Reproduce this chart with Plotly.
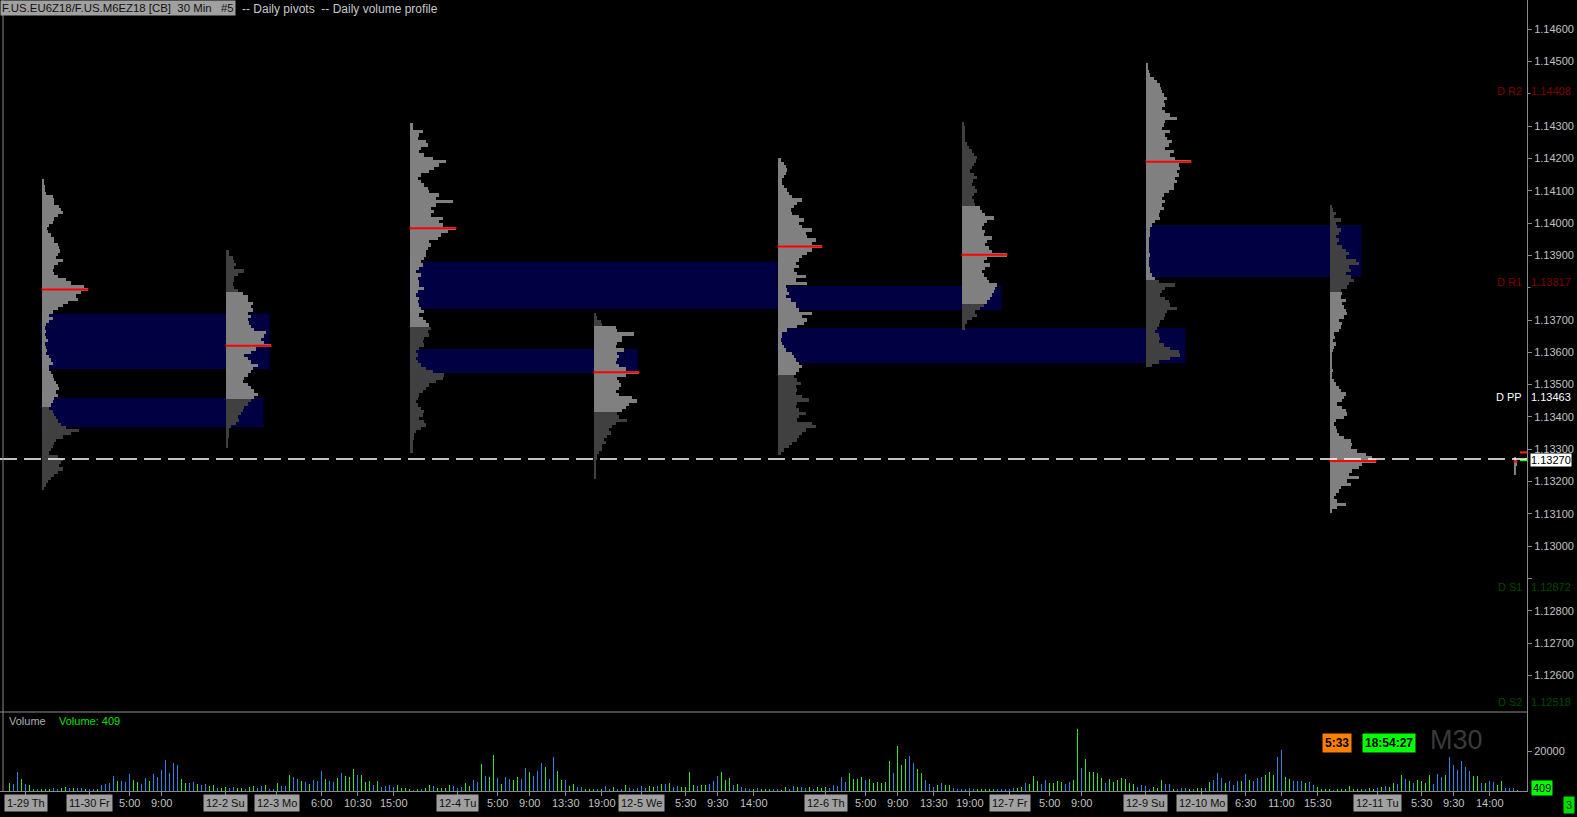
import plotly.graph_objects as go

# ---------------- DATA ----------------
# x axis = 30-min bar index k (k = 0 -> 11-29 18:00 ET session open)
vol_first_bar = -8
volume = [
    4000,3500,9500,6000,3500,3000,1000,1000,1000,1000, 1000,1500,1000,1500,2000,1500,1500,1500,1500,1000,
    1000,1000,1000,3000,3500,4000,7500,5000,5000,4500, 8500,5500,4500,3500,6500,5000,8500,7000,10500,15500,
    9000,14000,13000,6000,4000,4000,4500,3500,3000,3500, 2500,3000,1500,1500,2000,1500,2000,1500,1500,1000,
    2000,2500,1500,2500,3000,1000,1000,4000,2500,2500, 8000,7000,6000,5000,4500,3500,5500,5000,10000,6000,
    5000,4500,6500,9000,7500,7000,11000,8000,8000,4500, 5000,3000,5000,2000,2500,3000,2000,3000,1500,1500,
    1000,500,1000,1000,1500,3000,2500,1500,1500,1500, 3000,2500,1500,2000,4000,2500,5500,4500,13500,7500,
    7000,18000,6500,3500,7000,6000,5500,7000,
    6000,11500,9500,7500,10000,14000,12000,6000,17000,10000, 5500,5500,2500,3500,2000,2000,1000,1000,1000,1000,
    1000,2500,1000,2000,1000,1000,3000,1500,1000,1500, 2500,1500,2500,2000,2500,3500,3500,4000,2000,2500,
    2000,2000,9500,3000,2500,3000,3000,3500,5000,7500, 9500,5500,6500,3000,3500,2000,1500,1000,1000,1500,
    1000,1000,1000,1000,1000,500,2000,1000,2500,2000, 2000,1500,2000,1000,2000,1500,2000,1500,3000,2500,
    7000,4500,9000,6000,6000,7000,5500,6000,4000,4500, 4000,4500,15000,9000,22500,13000,16000,17500,14000,11000,
    9000,5500,3500,2000,3000,4000,3000,3000,1500,1000, 1000,1000,1500,1000,1000,1000,1000,1000,1000,1000,
    1000,1000,1000,1500,1500,2000,4000,3500,
    7500,5000,3500,5500,4000,4000,5000,4500,3500,4500, 5500,31000,11500,16000,9500,9500,9000,6500,4000,6000,
    4500,5500,6500,6000,4000,3500,2000,3000,2500,1000, 2000,1500,5500,3500,3500,1000,1000,1500,1500,1000,
    1000,1500,1500,1500,4500,5500,9000,6500,4000,5000, 3000,5000,5000,8500,5500,5000,6500,7000,8000,9500,
    8000,17000,20500,7000,6000,5000,5000,5000,4000,4500, 3000,2000,1000,1000,1000,500,1000,1000,1000,2500,
    1000,1000,1000,1000,1500,1000,1500,2000,2500,2000, 4000,3500,8000,6000,5000,4000,5500,5000,4000,8000,
    3500,8500,7000,8000,17000,13000,10500,15000,12000,10000, 7500,7500,4000,4000,5000,4500,3000,5000,1500,1500,
    1500,409,
]
# g = up bar (green), b = down bar (blue)
vol_dir = (
    "gbbgbggbgg" "gbbggbgbbg" "bbgbbbbgbb" "bggbbgbbbb" "bbbggbbgbb" "ggbggbbggb" "ggbbgbbgbb"
    "gbbgbgbbbg" "bbgbgggbgg" "gbgbbbbggg" "gbgbggbggg" "gbbbggbbgb" "ggbgbbgg"
    "bbgbbbgbbg" "gbggbbgggb" "gbbgbbgbbb" "bbggbgbgbb" "ggggbggbbb" "gggbgbbbgb" "gggbbggbbg"
    "bbgbgggbbb" "bbggggbggg" "gggbgggbbg" "gbbbgbggbb" "bbbbgggggb" "bbbbggbg"
    "ggbbggggbb" "ggbgggggbg" "ggggggbbbb" "gggbbgbbbg" "bggbgbbbgb" "bbgbgbbbgg" "gbbggbbbgb"
    "bggggbgggg" "gggbggbgbg" "gbgbgbgggg" "bbbgbbbbbb" "ggbgbbggbb" "bg"
)

# daily pivots
pivot_names = ["D R2", "D R1", "D PP", "D S1", "D S2"]
pivot_values = [1.14408, 1.13817, 1.13463, 1.12872, 1.12518]
pivot_colors = ["#7c0000", "#7c0000", "#ffffff", "#004800", "#004800"]

last_price = 1.13270
ask_price = 1.13290
bid_price = 1.13266

price_ticks = [1.126, 1.127, 1.128, 1.129, 1.130, 1.131, 1.132, 1.133, 1.134, 1.135, 1.136,
               1.137, 1.138, 1.139, 1.140, 1.141, 1.142, 1.143, 1.144, 1.145, 1.146]

# daily volume profiles (session start bar, price high/low, value area, volume per price row)
prof_start = [0, 46, 92, 138, 184, 230, 276, 322, 368]
prof_high = [1.14137, 1.13917, 1.14309, 1.13721, 1.14201, 1.14312, 1.14495, 1.14056, 1.13276]
prof_low = [1.13174, 1.13304, 1.13287, 1.13207, 1.13282, 1.13668, 1.13555, 1.13103, 1.13220]
va_high = [1.14137, 1.13787, 1.14309, 1.13682, 1.14201, 1.14053, 1.14495, 1.13791, 1.13276]
va_low = [1.13434, 1.13456, 1.13682, 1.13416, 1.13530, 1.13750, 1.13819, 1.13103, 1.13220]
prof_1 = [2,2,3,3,4,11,12,12,17,19,21,16,12,11,7,5,6,9,12,12,16,17,18,16,14,21,16,12,11,12,16,24,29,42,46,39,
          34,36,26,21,16,11,7,11,7,4,3,4,3,4,6,3,4,5,4,7,9,11,7,7,9,11,12,14,16,17,14,16,12,11,9,7,11,12,14,
          16,19,24,37,29,21,14,12,11,9,7,16,21,19,17,21,16,12,9,6,4,2]
prof_2 = [3,3,7,8,10,8,18,12,8,8,7,8,12,17,22,22,27,25,27,22,25,22,23,25,28,40,38,35,38,45,30,25,18,22,25,32,
          27,25,22,18,17,22,25,28,32,28,25,22,18,17,15,12,13,10,5,3,3,3,2,2,2]
prof_3 = [3,3,13,9,8,16,18,11,9,14,23,36,29,24,19,11,8,11,14,18,19,29,26,43,26,21,24,21,33,29,33,46,38,31,28,
          19,21,18,16,16,14,11,13,9,6,11,8,9,9,14,8,6,9,8,9,11,14,9,13,16,19,21,18,19,14,13,14,9,6,8,6,8,11,
          16,23,34,33,26,19,16,13,9,8,6,8,11,14,13,9,14,16,11,6,4,4,3,3,3,3]
prof_4 = [2,3,7,8,22,23,40,28,28,23,22,30,23,25,23,22,25,32,45,32,23,25,27,25,22,25,38,43,35,32,28,23,25,33,
          22,18,15,17,13,10,12,8,8,5,3,3,2,2,2,2,2,2]
prof_5 = [3,6,8,9,8,6,4,4,6,9,11,14,24,19,16,13,14,21,26,21,24,34,28,29,38,34,44,34,29,24,21,18,21,16,19,28,
          18,29,8,9,11,8,13,18,18,21,34,24,29,26,19,9,4,4,3,4,6,8,14,16,18,21,24,21,18,16,19,23,18,19,18,24,
          31,19,18,21,28,21,19,34,38,28,24,21,19,14,11,6,3]
prof_6 = [2,3,3,3,3,3,5,7,10,12,15,14,12,10,8,12,15,11,10,13,15,12,10,12,13,18,20,23,32,25,22,20,23,22,30,25,
          23,27,30,45,25,22,28,23,20,22,25,27,35,33,32,30,28,25,22,18,13,15,10,5,3,3]
prof_7 = [2,2,3,4,8,11,14,15,16,18,21,18,19,16,19,24,31,19,18,16,24,19,21,26,23,19,28,24,29,45,33,34,31,33,29,
          31,28,28,23,18,16,19,16,18,14,13,14,9,6,4,4,4,3,3,3,3,3,4,3,3,3,4,4,6,9,13,29,19,16,14,19,23,24,31,
          21,19,18,14,13,11,9,13,14,13,18,24,33,34,24,13,6]
prof_8 = [2,3,6,4,11,6,7,11,9,6,9,7,12,16,19,16,26,29,19,21,16,21,24,19,17,11,12,11,16,12,14,16,17,14,9,12,11,
          9,4,5,3,6,4,3,2,2,2,2,2,3,2,2,4,6,9,11,16,14,12,7,12,16,17,14,6,4,6,7,9,14,21,22,21,27,36,42,46,32,
          29,22,19,29,17,21,11,9,6,4,7,16,7,2]
prof_9 = [2,3,3,2,2,2]
profiles = [prof_1, prof_2, prof_3, prof_4, prof_5, prof_6, prof_7, prof_8, prof_9]

# unfilled value-area zones (dark blue boxes)
zone_start = [0, 0, 92, 92, 184, 184, 276]
zone_end = [57, 55.5, 184, 149, 240, 286, 330]
zone_high = [1.13719, 1.13459, 1.13880, 1.13610, 1.13805, 1.13675, 1.13994]
zone_low = [1.13548, 1.13369, 1.13735, 1.13536, 1.13731, 1.13567, 1.13833]

# time axis labels
time_labels = ["1-29 Th", "11-30 Fr", "5:00", "9:00", "12-2 Su", "12-3 Mo", "6:00", "10:30", "15:00",
               "12-4 Tu", "5:00", "9:00", "13:30", "19:00", "12-5 We", "5:30", "9:30", "14:00",
               "12-6 Th", "5:00", "9:00", "13:30", "19:00", "12-7 Fr", "5:00", "9:00", "12-9 Su",
               "12-10 Mo", "6:30", "11:00", "15:30", "12-11 Tu", "5:30", "9:30", "14:00"]
time_bars = [-4, 12, 22, 30, 46, 58.75, 70, 79, 88, 104, 114, 122, 131, 140, 150, 161, 169, 178,
             196, 206, 214, 223, 232, 242, 252, 260, 276, 290, 301, 310, 319, 334, 345, 353, 362]

# ---------------- STYLE / LAYOUT ----------------
W, H = 1577, 817
ML, MR, MT, MB = 0, 50, 0, 26
PW, PH = W - ML - MR, H - MT - MB
SEP = 712  # pane separator (px from top)
X_RANGE = [-10.375, 371.375]
P_RANGE = [1.146 - (SEP - 29.3) / 32300.0, 1.146 + 29.3 / 32300.0]
V_RANGE = [0, 39500]
PROFILE_SCALE = 0.25  # bars per profile unit

LIGHT, DARK = "#808080", "#404040"
GREEN, BLUE = "#2ee82e", "#2a86e6"
FONT = "Liberation Sans, Arial, sans-serif"

fig = go.Figure()

shapes = []
for s, e, hi, lo in zip(zone_start, zone_end, zone_high, zone_low):
    shapes.append(dict(type="rect", xref="x2", yref="y", x0=s, x1=e, y0=lo, y1=hi,
                       fillcolor="#000042", line=dict(width=0), layer="below"))

for start, hi, lo, vh, vl, prof in zip(prof_start, prof_high, prof_low, va_high, va_low, profiles):
    n = len(prof)
    step = (hi - lo) / n
    centers = [hi - (i + 0.5) * step for i in range(n)]
    cols = [LIGHT if vl - 1e-9 <= c <= vh + 1e-9 else DARK for c in centers]
    fig.add_trace(go.Bar(orientation="h", y=centers, x=[v * PROFILE_SCALE for v in prof],
                         base=[start] * n, width=step, marker=dict(color=cols, line=dict(width=0)),
                         xaxis="x2", yaxis="y", showlegend=False, hoverinfo="skip"))
    imax = max(range(n), key=lambda i: prof[i])
    shapes.append(dict(type="line", xref="x2", yref="y", x0=start, x1=start + prof[imax] * PROFILE_SCALE + 0.25,
                       y0=centers[imax], y1=centers[imax], line=dict(color="#ff0000", width=2), layer="above"))

ks = list(range(vol_first_bar, vol_first_bar + len(volume)))
fig.add_trace(go.Bar(x=ks, y=volume, width=0.25,
                     marker=dict(color=[GREEN if d == "g" else BLUE for d in vol_dir], line=dict(width=0)),
                     xaxis="x", yaxis="y2", showlegend=False, hoverinfo="skip"))

# bid / ask ticks of current bar
fig.add_trace(go.Scatter(x=[ks[-1] + 1.5, ks[-1] + 1.5], y=[ask_price, bid_price], mode="markers",
                         marker=dict(symbol="line-ew", size=5, line=dict(width=2, color=["#ff2020", "#20ff20"])),
                         xaxis="x2", yaxis="y", showlegend=False, hoverinfo="skip"))

# last price dashed line
shapes.append(dict(type="line", xref="paper", yref="y", x0=0, x1=1, y0=last_price, y1=last_price,
                   line=dict(color="#ffffff", width=1.5, dash="17px,7px"), layer="above"))
# pane separator & left border
sep_y = 1 - SEP / PH
shapes.append(dict(type="line", xref="paper", yref="paper", x0=0, x1=1, y0=sep_y, y1=sep_y,
                   line=dict(color="#8a8a8a", width=1)))
shapes.append(dict(type="line", xref="paper", yref="paper", x0=3 / PW, x1=3 / PW, y0=0, y1=1,
                   line=dict(color="#8a8a8a", width=1)))

ann = []
def px_x(x):
    return x / PW
def px_y(y):
    return 1 - y / PH

# tick labels hidden behind the pivot value boxes in the original
hidden = set()
for val in pivot_values:
    for p in price_ticks:
        if abs(p - val) < 0.0003:
            hidden.add(p)
price_ticktext = ["" if p in hidden else f"{p:.5f}" for p in price_ticks]

# pivot labels
for name, val, col in zip(pivot_names, pivot_values, pivot_colors):
    ann.append(dict(xref="paper", yref="y", x=1, y=val, xanchor="left", xshift=3, text=f"{val:.5f}",
                    showarrow=False, font=dict(family=FONT, size=11, color=col), bgcolor="#000000", borderpad=0))
    ann.append(dict(xref="paper", yref="y", x=1, y=val, xanchor="right", xshift=-4, text=name,
                    showarrow=False, font=dict(family=FONT, size=11, color=col), bgcolor="#000000", borderpad=0))
# last price box
ann.append(dict(xref="paper", yref="y", x=1, y=last_price, xanchor="left", xshift=3, yshift=-1,
                text=f"{last_price:.5f}", showarrow=False, font=dict(family=FONT, size=11, color="#000000"),
                bgcolor="#ffffff", borderpad=0))
# current volume box
ann.append(dict(xref="paper", yref="y2", x=1, y=volume[-1], xanchor="left", xshift=4, yshift=2,
                text=str(volume[-1]), showarrow=False, font=dict(family=FONT, size=11, color="#000000"),
                bgcolor="#00ff00", borderpad=1))
# header
ann.append(dict(xref="paper", yref="paper", x=0, y=1, xanchor="left", yanchor="top",
                text="F.US.EU6Z18/F.US.M6EZ18 [CB]\u00a0\u00a030 Min\u00a0\u00a0\u00a0#5", showarrow=False,
                font=dict(family=FONT, size=11.4, color="#101010"), bgcolor="#a0a0a0", borderpad=1))
ann.append(dict(xref="paper", yref="paper", x=px_x(240), y=1, xanchor="left", yanchor="top",
                text="-- Daily pivots\u00a0\u00a0-- Daily volume profile", showarrow=False,
                font=dict(family=FONT, size=12, color="#c8c8c8"), borderpad=1))
# volume pane title
ann.append(dict(xref="paper", yref="paper", x=px_x(7), y=px_y(721), xanchor="left", yanchor="middle",
                text="Volume", showarrow=False, font=dict(family=FONT, size=11, color="#b0b0b0")))
ann.append(dict(xref="paper", yref="paper", x=px_x(57), y=px_y(721), xanchor="left", yanchor="middle",
                text=f"Volume: {volume[-1]}", showarrow=False, font=dict(family=FONT, size=11, color="#00e000")))
# timers
ann.append(dict(xref="paper", yref="paper", x=px_x(1336.5), y=px_y(743), xanchor="center", yanchor="middle",
                text="<b>5:33</b>", showarrow=False, font=dict(family=FONT, size=12, color="#000000"),
                bgcolor="#ff8000", borderpad=2))
ann.append(dict(xref="paper", yref="paper", x=px_x(1389), y=px_y(743), xanchor="center", yanchor="middle",
                text="<b>18:54:27</b>", showarrow=False, font=dict(family=FONT, size=12, color="#000000"),
                bgcolor="#00ff00", borderpad=2))
ann.append(dict(xref="paper", yref="paper", x=px_x(1456), y=px_y(740), xanchor="center", yanchor="middle",
                text="M30", showarrow=False, font=dict(family=FONT, size=27, color="#3a3a3a")))
ann.append(dict(xref="paper", yref="paper", x=px_x(1569), y=px_y(805), xanchor="center", yanchor="middle",
                text="3", showarrow=False, font=dict(family=FONT, size=11, color="#004000"),
                bgcolor="#00dd00", borderpad=2))
# time axis labels
for lab, kb in zip(time_labels, time_bars):
    is_date = "-" in lab
    ann.append(dict(xref="x", yref="paper", x=kb, y=px_y(803), xanchor="center", yanchor="middle",
                    text=lab, showarrow=False,
                    font=dict(family=FONT, size=11, color="#101010" if is_date else "#c0c0c0"),
                    bgcolor="#a0a0a0" if is_date else None, borderpad=2))

axis_common = dict(showgrid=False, zeroline=False, showline=True, linecolor="#8a8a8a", linewidth=1,
                   ticks="outside", ticklen=4, tickcolor="#8a8a8a",
                   tickfont=dict(family=FONT, size=11, color="#c0c0c0"))

fig.update_layout(
    width=W, height=H, margin=dict(l=ML, r=MR, t=MT, b=MB),
    paper_bgcolor="#000000", plot_bgcolor="#000000",
    barmode="overlay", bargap=0, showlegend=False,
    xaxis=dict(domain=[0, 1], range=X_RANGE, anchor="y2", tickvals=time_bars, showticklabels=False,
               **{k: v for k, v in axis_common.items() if k != "tickfont"}),
    xaxis2=dict(domain=[0, 1], range=X_RANGE, anchor="y", matches="x", visible=False),
    yaxis=dict(domain=[1 - SEP / PH, 1], range=P_RANGE, side="right", anchor="x2",
               tickvals=price_ticks, ticktext=price_ticktext, **axis_common),
    yaxis2=dict(domain=[0, 1 - SEP / PH], range=V_RANGE, side="right", anchor="x",
                tickvals=[20000], ticktext=["20000"], **axis_common),
    shapes=shapes, annotations=ann,
)

fig.write_html("out.html", config={"displayModeBar": False, "staticPlot": True},
               post_script="document.body.style.margin='0';document.body.style.overflow='hidden';")
